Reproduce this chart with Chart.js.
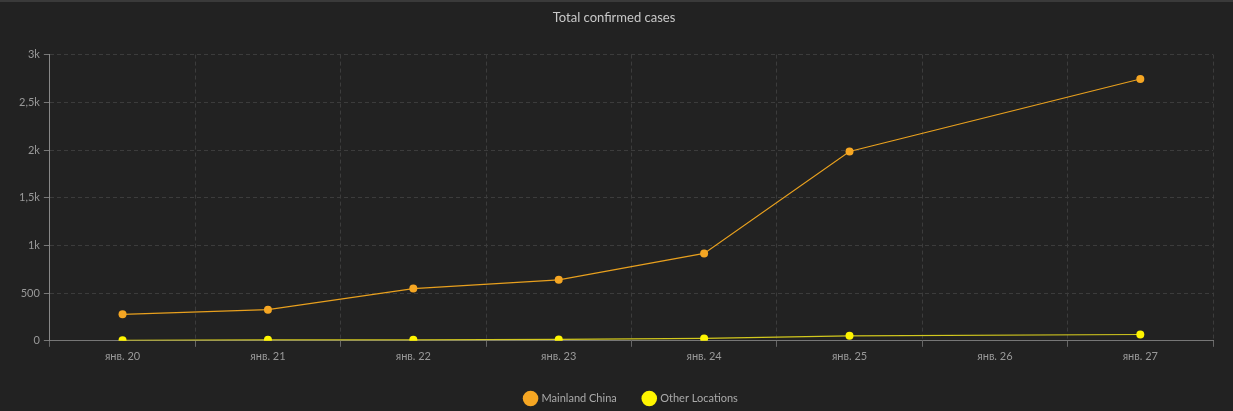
<!DOCTYPE html>
<html>
<head>
<meta charset="utf-8">
<script src="https://cdn.jsdelivr.net/npm/chart.js@4/dist/chart.umd.min.js"></script>
<style>
	html, body { margin: 0; padding: 0; background: #222222; }
	#wrap { width: 1233px; height: 411px; position: relative; border-top: 2px solid #3a3a3a; box-sizing: border-box; }
</style>
</head>
<body>
<div id="wrap"><canvas id="casesChart"></canvas></div>
<script>
var days = ['янв. 20', 'янв. 21', 'янв. 22', 'янв. 23', 'янв. 24', 'янв. 25', 'янв. 26', 'янв. 27'];
var mainland = [278, 326, 547, 639, 916, 1985, null, 2744];
var otherLocations = [6, 10, 10, 14, 25, 52, null, 66];
var yTicks = ['0', '500', '1k', '1,5k', '2k', '2,5k', '3k'];

var font = 'Lato, "Noto Sans", sans-serif';

var casesChart = new Chart(document.getElementById('casesChart'), {
	type: 'line',
	data: {
		labels: days,
		datasets: [
			{
				label: 'Mainland China',
				data: mainland,
				borderColor: 'rgb(232, 160, 30)',
				backgroundColor: 'rgb(245, 166, 35)',
				borderWidth: 1.2,
				pointRadius: 4,
				pointBorderWidth: 0,
				spanGaps: true,
				tension: 0,
			},
			{
				label: 'Other Locations',
				data: otherLocations,
				borderColor: 'rgb(210, 200, 30)',
				backgroundColor: 'rgb(255, 245, 0)',
				borderWidth: 1.2,
				pointRadius: 4,
				pointBorderWidth: 0,
				spanGaps: true,
				tension: 0,
			},
		],
	},
	options: {
		responsive: true,
		maintainAspectRatio: false,
		animation: false,
		layout: {
			padding: { left: 15, right: 20, top: 0, bottom: -3 },
		},
		plugins: {
			title: {
				display: true,
				text: 'Total confirmed cases',
				color: '#c8c8c8',
				font: { family: font, size: 13, weight: 'normal' },
				padding: { top: 8, bottom: 29 },
			},
			legend: {
				position: 'bottom',
				fullSize: false,
				labels: {
					usePointStyle: true,
					pointStyle: 'circle',
					boxHeight: 11,
					color: '#aaaaaa',
					font: { family: font, size: 11 },
					padding: 27,
				},
			},
			tooltip: { enabled: false },
		},
		scales: {
			x: {
				offset: true,
				grid: {
					offset: true,
					color: '#3c3c3c',
					tickColor: '#666666',
					tickLength: 6,
				},
				border: { color: '#777777', dash: [4, 3] },
				ticks: {
					color: '#999999',
					font: { family: font, size: 11 },
					maxRotation: 0,
					autoSkip: false,
					padding: 3,
				},
			},
			y: {
				min: 0,
				max: 3000,
				grid: {
					color: '#3c3c3c',
					tickColor: '#777777',
					tickLength: 6,
				},
				border: { color: '#888888', dash: [4, 3] },
				ticks: {
					stepSize: 500,
					color: '#999999',
					font: { family: font, size: 11 },
					padding: 4,
					callback: function (value, index) {
						return yTicks[index];
					},
				},
			},
		},
	},
});
</script>
</body>
</html>
